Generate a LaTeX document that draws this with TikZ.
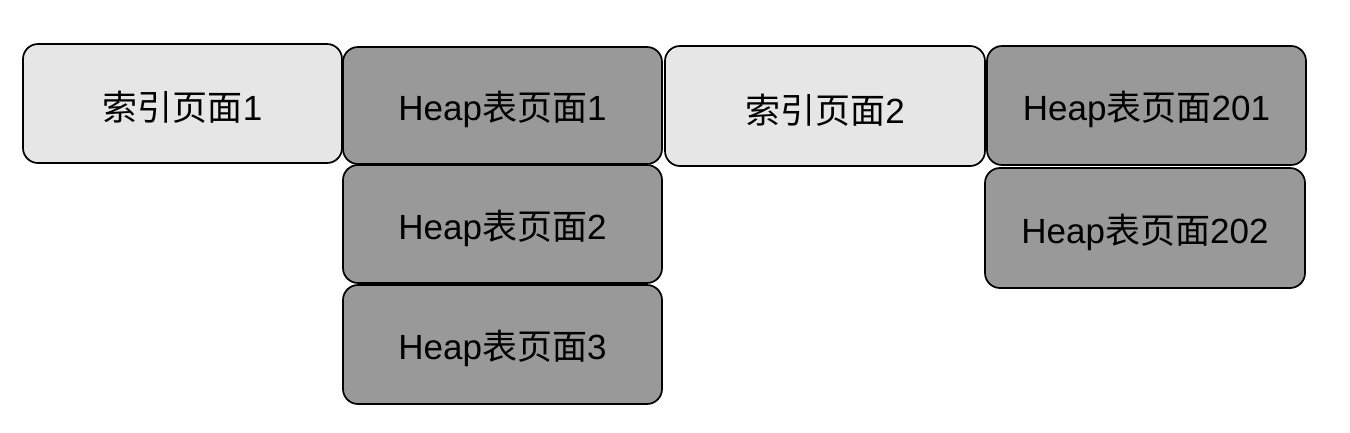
\documentclass[tikz,border=0pt]{standalone}
\usepackage{fontspec}
\setmainfont{Liberation Sans}
\newfontfamily\cjk{Noto Sans CJK SC}
\begin{document}
\begin{tikzpicture}[x=1pt,y=-1pt,
  page/.style={draw=black, line width=1.7pt, rounded corners=15pt, inner sep=0pt},
  idxpage/.style={page, fill=lightfill},
  heappage/.style={page, fill=darkfill},
  pagetext/.style={font=\fontsize{35}{40}\selectfont, inner sep=0pt, yshift=-4pt}]
\definecolor{lightfill}{HTML}{E6E6E6}
\definecolor{darkfill}{HTML}{999999}
\useasboundingbox[fill=white] (0,0) rectangle (1350,432);
\node[idxpage, minimum width=319pt, minimum height=119pt, label={[pagetext]center:{\cjk 索引页面}1}] (i1) at (182.5,103.5) {};
\node[heappage, minimum width=319pt, minimum height=117pt, label={[pagetext]center:Heap{\cjk 表页面}1}] (h1) at (502.5,105.5) {};
\node[heappage, minimum width=319pt, minimum height=118pt, label={[pagetext]center:Heap{\cjk 表页面}2}] (h2) at (502.5,224) {};
\node[heappage, minimum width=319pt, minimum height=119pt, label={[pagetext]center:Heap{\cjk 表页面}3}] (h3) at (502.5,344.5) {};
\node[idxpage, minimum width=320pt, minimum height=120pt, label={[pagetext]center:{\cjk 索引页面}2}] (i2) at (825,106) {};
\node[heappage, minimum width=319pt, minimum height=119pt, label={[pagetext]center:Heap{\cjk 表页面}201}] (h201) at (1146.5,105.5) {};
\node[heappage, minimum width=320pt, minimum height=120pt, label={[pagetext]center:Heap{\cjk 表页面}202}] (h202) at (1145,228) {};
\end{tikzpicture}
\end{document}
